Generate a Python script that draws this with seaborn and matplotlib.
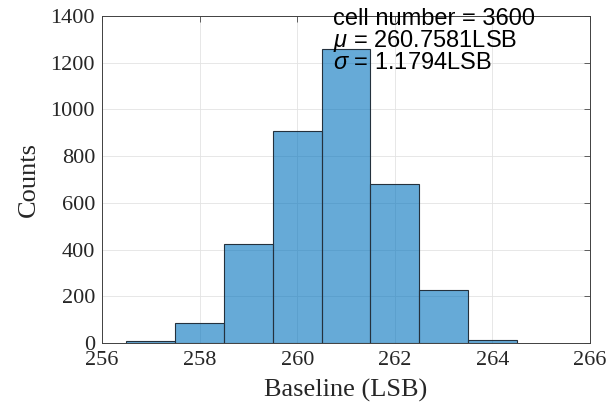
import matplotlib
matplotlib.use("Agg")
import matplotlib.pyplot as plt
import seaborn as sns
import numpy as np
import pandas as pd

bin_edges = [256.5, 257.5, 258.5, 259.5, 260.5, 261.5, 262.5, 263.5, 264.5]
bin_centers = [257, 258, 259, 260, 261, 262, 263, 264]
counts = [9, 87, 422, 906, 1257, 681, 226, 12]
x_ticks = [256, 258, 260, 262, 264, 266]
y_ticks = [0, 200, 400, 600, 800, 1000, 1200, 1400]
stats_lines = ["cell number = 3600", r"$\mu$ = 260.7581LSB", r"$\sigma$ = 1.1794LSB"]

sns.set_style("white")
plt.rcParams['font.family'] = ['Liberation Serif', 'DejaVu Serif']
plt.rcParams['mathtext.fontset'] = 'custom'
plt.rcParams['mathtext.it'] = 'Liberation Sans:italic'
plt.rcParams['mathtext.rm'] = 'Liberation Sans'

fig = plt.figure(figsize=(6.11, 4.11), dpi=100)
ax = fig.add_axes([102/611, 1-343/411, 488/611, 327/411])

df = pd.DataFrame({"x": bin_centers, "w": counts})
sns.histplot(data=df, x="x", weights="w", bins=bin_edges, ax=ax,
             color="#0072BD", alpha=0.6, edgecolor="#24313d", linewidth=0.8)

ax.set_xlim(256, 266)
ax.set_ylim(0, 1400)
ax.set_xticks(x_ticks)
ax.set_yticks(y_ticks)
ax.set_axisbelow(True)
ax.grid(True, color="#e3e3e3", linewidth=0.6)
ax.tick_params(direction="in", length=4, labelsize=16, colors="#262626",
               top=True, right=True, width=0.5)
ax.tick_params(axis="x", pad=6)
ax.tick_params(axis="y", pad=5)
for s in ax.spines.values():
    s.set_color("#404040")
    s.set_linewidth(0.7)
    s.set_visible(True)

ax.set_xlabel("Baseline (LSB)", fontsize=19, color="#262626", labelpad=6)
ax.set_ylabel("Counts", fontsize=19, color="#262626", labelpad=8)

ys = [0.972, 0.905, 0.838]
for t, y in zip(stats_lines, ys):
    ax.text(0.473, y, t, transform=ax.transAxes, fontsize=17,
            family=['Liberation Sans', 'DejaVu Sans'], va="baseline",
            ha="left", color="black", clip_on=False, zorder=10)

fig.savefig("out.png", dpi=100)
